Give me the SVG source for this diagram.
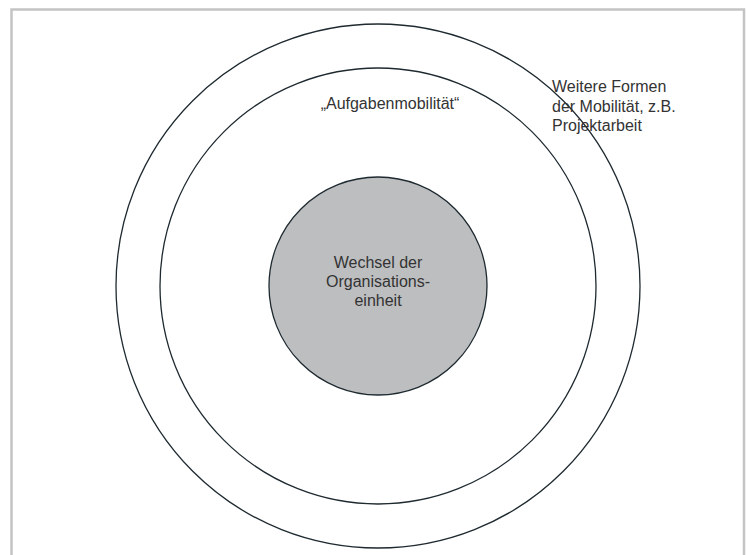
<svg xmlns="http://www.w3.org/2000/svg" width="746" height="555" viewBox="0 0 746 555">
<style>
.ring{fill:none;stroke:#1e2a30;stroke-width:1.3}
.core{fill:#bdbec0;stroke:#1e2a30;stroke-width:1.3}
.t{font-family:"Liberation Sans",Arial,sans-serif;font-size:16px;fill:#333}
</style>
<rect width="746" height="555" fill="#fff"/>
<path d="M11.5 555 V9.5 H744 V555" fill="none" stroke="#c4c4c4" stroke-width="2.5"/>
<g id="outer">
<circle class="ring" cx="378" cy="286" r="262"/>
<text class="t" x="552" y="92">Weitere Formen</text>
<text class="t" x="552" y="112">der Mobilität, z.B.</text>
<text class="t" x="552" y="131">Projektarbeit</text>
</g>
<g id="middle">
<circle class="ring" cx="378" cy="286" r="218"/>
<text class="t" x="390" y="109" text-anchor="middle">„Aufgabenmobilität“</text>
</g>
<g id="core">
<circle class="core" cx="378" cy="286" r="109"/>
<text class="t" x="378" y="268" text-anchor="middle">Wechsel der</text>
<text class="t" x="378" y="287" text-anchor="middle">Organisations-</text>
<text class="t" x="378" y="306" text-anchor="middle">einheit</text>
</g>
<g id="connectors"/>
</svg>
